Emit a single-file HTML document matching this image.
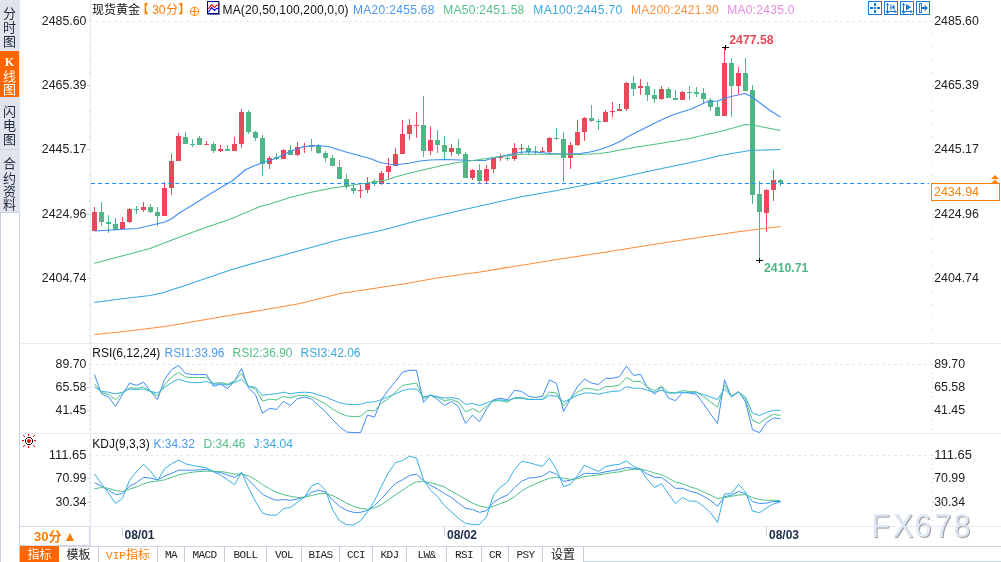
<!DOCTYPE html>
<html lang="zh"><head><meta charset="utf-8"><title>现货黄金 30分 K线图</title>
<style>
html,body{margin:0;padding:0;background:#fff}
body{width:1001px;height:562px;position:relative;overflow:hidden;font-family:"Liberation Sans","Noto Sans CJK SC",sans-serif;font-size:12px;color:#222}
#side{position:absolute;left:0;top:0;width:20px;height:562px;background:#fff;box-sizing:border-box;border-left:1px solid #c5cfde;border-right:1px solid #c9d3e1}
#side .tab{position:absolute;left:-1px;width:20px;background:#e1e4ed;box-sizing:border-box;border-right:1px solid #dde6f3}
#side .tab.on{background:#ff6600;color:#fff}
#side .tab i{position:absolute;left:0;width:19px;height:14px;line-height:14px;font-style:normal;font-size:13px;text-align:center;color:#1f2a3d}
#side .tab.on i{color:#fff}
svg{position:absolute;left:0;top:0}
svg text{font-family:"Liberation Sans","Noto Sans CJK SC",sans-serif}
#period{position:absolute;left:20px;top:526px;width:70px;height:20px;box-sizing:border-box;border:1px solid #d3dae6;border-left:none;background:#fff;color:#ff7a00;font-weight:bold;font-size:13px;line-height:19px;padding-left:14px}
#period b{position:absolute;left:45.500px;top:5.500px;width:0;height:0;border-left:4.300px solid transparent;border-right:4.300px solid transparent;border-bottom:8.500px solid #ff7a00}
#tabs{position:absolute;left:20px;top:546px;height:16px;width:981px;box-sizing:border-box;display:flex;background:#fff}
#tabs div{box-sizing:border-box;height:16px;border-top:1px solid #cdd5e0;border-right:1px solid #c5cdd9;text-align:center;font-family:"Liberation Mono","Noto Sans CJK SC",monospace;font-size:11px;letter-spacing:-0.600px;line-height:17px;color:#222;white-space:nowrap;overflow:hidden}
#tabs div.cn{font-family:"Liberation Sans","Noto Sans CJK SC",sans-serif;font-size:12px;letter-spacing:0;line-height:17px}
#tabs div.on{background:#ff6600;color:#fff;border-top:none;border-right:none;line-height:18px}
#tabs div.vip{color:#ff7a00}
#tabs div.last{border-bottom:1px solid #c5cdd9;border-right:none;flex:1}
</style></head><body>
<div id="side">
<div class="tab" style="top:0;height:51px;border-bottom:1px solid #e8edf5"><i style="top:6.900px">分</i><i style="top:20.600px">时</i><i style="top:34.700px">图</i></div>
<div class="tab on" style="top:51px;height:46px"><i style="top:4.100px;font-family:'Liberation Serif',serif;font-weight:bold;font-size:12px">K</i><i style="top:18.700px">线</i><i style="top:32px">图</i></div>
<div class="tab" style="top:97px;height:53px;border-bottom:1px solid #cfd6e3"><i style="top:7.700px">闪</i><i style="top:21.900px">电</i><i style="top:35.900px">图</i></div>
<div class="tab" style="top:150px;height:63px;border-bottom:1px solid #c8d2e0"><i style="top:7px">合</i><i style="top:21.600px">约</i><i style="top:35.400px">资</i><i style="top:47.800px">料</i></div>
</div>
<svg width="1001" height="562" viewBox="0 0 1001 562">
<rect x="20" y="343" width="981" height="1" fill="#e7ebf2"/>
<rect x="20" y="433" width="981" height="1" fill="#e7ebf2"/>
<rect x="20" y="526" width="981" height="1" fill="#e7ebf2"/>
<rect x="90" y="0" width="1" height="546" fill="#e4e9f1"/>
<line x1="90" x2="932" y1="21.5" y2="21.5" stroke="#e1e8f0" stroke-width="1" stroke-dasharray="3 3"/>
<line x1="90" x2="932" y1="364.5" y2="364.5" stroke="#e1e8f0" stroke-width="1" stroke-dasharray="3 3"/>
<line x1="90" x2="932" y1="455.5" y2="455.5" stroke="#e1e8f0" stroke-width="1" stroke-dasharray="3 3"/>
<rect x="89" y="20" width="1" height="1" fill="#c9d2df"/>
<rect x="932" y="20" width="1" height="1" fill="#c9d2df"/>
<rect x="89" y="33" width="1" height="1" fill="#c9d2df"/>
<rect x="932" y="33" width="1" height="1" fill="#c9d2df"/>
<rect x="89" y="46" width="1" height="1" fill="#c9d2df"/>
<rect x="932" y="46" width="1" height="1" fill="#c9d2df"/>
<rect x="89" y="59" width="1" height="1" fill="#c9d2df"/>
<rect x="932" y="59" width="1" height="1" fill="#c9d2df"/>
<rect x="89" y="72" width="1" height="1" fill="#c9d2df"/>
<rect x="932" y="72" width="1" height="1" fill="#c9d2df"/>
<rect x="89" y="85" width="1" height="1" fill="#c9d2df"/>
<rect x="932" y="85" width="1" height="1" fill="#c9d2df"/>
<rect x="89" y="98" width="1" height="1" fill="#c9d2df"/>
<rect x="932" y="98" width="1" height="1" fill="#c9d2df"/>
<rect x="89" y="111" width="1" height="1" fill="#c9d2df"/>
<rect x="932" y="111" width="1" height="1" fill="#c9d2df"/>
<rect x="89" y="123" width="1" height="1" fill="#c9d2df"/>
<rect x="932" y="123" width="1" height="1" fill="#c9d2df"/>
<rect x="89" y="136" width="1" height="1" fill="#c9d2df"/>
<rect x="932" y="136" width="1" height="1" fill="#c9d2df"/>
<rect x="89" y="149" width="1" height="1" fill="#c9d2df"/>
<rect x="932" y="149" width="1" height="1" fill="#c9d2df"/>
<rect x="89" y="162" width="1" height="1" fill="#c9d2df"/>
<rect x="932" y="162" width="1" height="1" fill="#c9d2df"/>
<rect x="89" y="175" width="1" height="1" fill="#c9d2df"/>
<rect x="932" y="175" width="1" height="1" fill="#c9d2df"/>
<rect x="89" y="188" width="1" height="1" fill="#c9d2df"/>
<rect x="932" y="188" width="1" height="1" fill="#c9d2df"/>
<rect x="89" y="201" width="1" height="1" fill="#c9d2df"/>
<rect x="932" y="201" width="1" height="1" fill="#c9d2df"/>
<rect x="89" y="214" width="1" height="1" fill="#c9d2df"/>
<rect x="932" y="214" width="1" height="1" fill="#c9d2df"/>
<rect x="89" y="226" width="1" height="1" fill="#c9d2df"/>
<rect x="932" y="226" width="1" height="1" fill="#c9d2df"/>
<rect x="89" y="239" width="1" height="1" fill="#c9d2df"/>
<rect x="932" y="239" width="1" height="1" fill="#c9d2df"/>
<rect x="89" y="252" width="1" height="1" fill="#c9d2df"/>
<rect x="932" y="252" width="1" height="1" fill="#c9d2df"/>
<rect x="89" y="265" width="1" height="1" fill="#c9d2df"/>
<rect x="932" y="265" width="1" height="1" fill="#c9d2df"/>
<rect x="89" y="278" width="1" height="1" fill="#c9d2df"/>
<rect x="932" y="278" width="1" height="1" fill="#c9d2df"/>
<rect x="89" y="291" width="1" height="1" fill="#c9d2df"/>
<rect x="932" y="291" width="1" height="1" fill="#c9d2df"/>
<rect x="89" y="304" width="1" height="1" fill="#c9d2df"/>
<rect x="932" y="304" width="1" height="1" fill="#c9d2df"/>
<rect x="89" y="317" width="1" height="1" fill="#c9d2df"/>
<rect x="932" y="317" width="1" height="1" fill="#c9d2df"/>
<rect x="89" y="329" width="1" height="1" fill="#c9d2df"/>
<rect x="932" y="329" width="1" height="1" fill="#c9d2df"/>
<rect x="89" y="342" width="1" height="1" fill="#c9d2df"/>
<rect x="932" y="342" width="1" height="1" fill="#c9d2df"/>
<rect x="89" y="364" width="1" height="1" fill="#c9d2df"/>
<rect x="932" y="364" width="1" height="1" fill="#c9d2df"/>
<rect x="89" y="368" width="1" height="1" fill="#c9d2df"/>
<rect x="932" y="368" width="1" height="1" fill="#c9d2df"/>
<rect x="89" y="373" width="1" height="1" fill="#c9d2df"/>
<rect x="932" y="373" width="1" height="1" fill="#c9d2df"/>
<rect x="89" y="378" width="1" height="1" fill="#c9d2df"/>
<rect x="932" y="378" width="1" height="1" fill="#c9d2df"/>
<rect x="89" y="382" width="1" height="1" fill="#c9d2df"/>
<rect x="932" y="382" width="1" height="1" fill="#c9d2df"/>
<rect x="89" y="387" width="1" height="1" fill="#c9d2df"/>
<rect x="932" y="387" width="1" height="1" fill="#c9d2df"/>
<rect x="89" y="392" width="1" height="1" fill="#c9d2df"/>
<rect x="932" y="392" width="1" height="1" fill="#c9d2df"/>
<rect x="89" y="396" width="1" height="1" fill="#c9d2df"/>
<rect x="932" y="396" width="1" height="1" fill="#c9d2df"/>
<rect x="89" y="401" width="1" height="1" fill="#c9d2df"/>
<rect x="932" y="401" width="1" height="1" fill="#c9d2df"/>
<rect x="89" y="405" width="1" height="1" fill="#c9d2df"/>
<rect x="932" y="405" width="1" height="1" fill="#c9d2df"/>
<rect x="89" y="410" width="1" height="1" fill="#c9d2df"/>
<rect x="932" y="410" width="1" height="1" fill="#c9d2df"/>
<rect x="89" y="415" width="1" height="1" fill="#c9d2df"/>
<rect x="932" y="415" width="1" height="1" fill="#c9d2df"/>
<rect x="89" y="419" width="1" height="1" fill="#c9d2df"/>
<rect x="932" y="419" width="1" height="1" fill="#c9d2df"/>
<rect x="89" y="424" width="1" height="1" fill="#c9d2df"/>
<rect x="932" y="424" width="1" height="1" fill="#c9d2df"/>
<rect x="89" y="429" width="1" height="1" fill="#c9d2df"/>
<rect x="932" y="429" width="1" height="1" fill="#c9d2df"/>
<rect x="89" y="454" width="1" height="1" fill="#c9d2df"/>
<rect x="932" y="454" width="1" height="1" fill="#c9d2df"/>
<rect x="89" y="459" width="1" height="1" fill="#c9d2df"/>
<rect x="932" y="459" width="1" height="1" fill="#c9d2df"/>
<rect x="89" y="464" width="1" height="1" fill="#c9d2df"/>
<rect x="932" y="464" width="1" height="1" fill="#c9d2df"/>
<rect x="89" y="468" width="1" height="1" fill="#c9d2df"/>
<rect x="932" y="468" width="1" height="1" fill="#c9d2df"/>
<rect x="89" y="473" width="1" height="1" fill="#c9d2df"/>
<rect x="932" y="473" width="1" height="1" fill="#c9d2df"/>
<rect x="89" y="478" width="1" height="1" fill="#c9d2df"/>
<rect x="932" y="478" width="1" height="1" fill="#c9d2df"/>
<rect x="89" y="482" width="1" height="1" fill="#c9d2df"/>
<rect x="932" y="482" width="1" height="1" fill="#c9d2df"/>
<rect x="89" y="487" width="1" height="1" fill="#c9d2df"/>
<rect x="932" y="487" width="1" height="1" fill="#c9d2df"/>
<rect x="89" y="492" width="1" height="1" fill="#c9d2df"/>
<rect x="932" y="492" width="1" height="1" fill="#c9d2df"/>
<rect x="89" y="496" width="1" height="1" fill="#c9d2df"/>
<rect x="932" y="496" width="1" height="1" fill="#c9d2df"/>
<rect x="89" y="501" width="1" height="1" fill="#c9d2df"/>
<rect x="932" y="501" width="1" height="1" fill="#c9d2df"/>
<rect x="89" y="506" width="1" height="1" fill="#c9d2df"/>
<rect x="932" y="506" width="1" height="1" fill="#c9d2df"/>
<rect x="89" y="510" width="1" height="1" fill="#c9d2df"/>
<rect x="932" y="510" width="1" height="1" fill="#c9d2df"/>
<rect x="89" y="515" width="1" height="1" fill="#c9d2df"/>
<rect x="932" y="515" width="1" height="1" fill="#c9d2df"/>
<rect x="89" y="520" width="1" height="1" fill="#c9d2df"/>
<rect x="932" y="520" width="1" height="1" fill="#c9d2df"/>
<rect x="87" y="85" width="3" height="1" fill="#cdd5e1"/>
<rect x="932" y="85" width="3" height="1" fill="#cdd5e1"/>
<rect x="87" y="149" width="3" height="1" fill="#cdd5e1"/>
<rect x="932" y="149" width="3" height="1" fill="#cdd5e1"/>
<rect x="87" y="214" width="3" height="1" fill="#cdd5e1"/>
<rect x="932" y="214" width="3" height="1" fill="#cdd5e1"/>
<rect x="87" y="278" width="3" height="1" fill="#cdd5e1"/>
<rect x="932" y="278" width="3" height="1" fill="#cdd5e1"/>
<rect x="87" y="387" width="3" height="1" fill="#cdd5e1"/>
<rect x="932" y="387" width="3" height="1" fill="#cdd5e1"/>
<rect x="87" y="410" width="3" height="1" fill="#cdd5e1"/>
<rect x="932" y="410" width="3" height="1" fill="#cdd5e1"/>
<rect x="87" y="478" width="3" height="1" fill="#cdd5e1"/>
<rect x="932" y="478" width="3" height="1" fill="#cdd5e1"/>
<rect x="87" y="502" width="3" height="1" fill="#cdd5e1"/>
<rect x="932" y="502" width="3" height="1" fill="#cdd5e1"/>
<rect x="94" y="207" width="1" height="24" fill="#e9485b"/>
<rect x="92" y="212" width="5" height="19" fill="#e9485b"/>
<rect x="101" y="202" width="1" height="24" fill="#4fb685"/>
<rect x="99" y="212" width="5" height="10" fill="#4fb685"/>
<rect x="108" y="215" width="1" height="18" fill="#4fb685"/>
<rect x="106" y="222" width="5" height="2" fill="#4fb685"/>
<rect x="115" y="218" width="1" height="12" fill="#4fb685"/>
<rect x="113" y="224" width="5" height="6" fill="#4fb685"/>
<rect x="122" y="217" width="1" height="12" fill="#e9485b"/>
<rect x="120" y="222" width="5" height="7" fill="#e9485b"/>
<rect x="129" y="208" width="1" height="15" fill="#e9485b"/>
<rect x="127" y="209" width="5" height="13" fill="#e9485b"/>
<rect x="136" y="206" width="1" height="8" fill="#4fb685"/>
<rect x="134" y="209" width="5" height="1" fill="#4fb685"/>
<rect x="143" y="202" width="1" height="10" fill="#e9485b"/>
<rect x="141" y="207" width="5" height="3" fill="#e9485b"/>
<rect x="150" y="204" width="1" height="9" fill="#4fb685"/>
<rect x="148" y="207" width="5" height="5" fill="#4fb685"/>
<rect x="157" y="207" width="1" height="19" fill="#4fb685"/>
<rect x="155" y="212" width="5" height="4" fill="#4fb685"/>
<rect x="164" y="182" width="1" height="34" fill="#e9485b"/>
<rect x="162" y="188" width="5" height="28" fill="#e9485b"/>
<rect x="171" y="154" width="1" height="41" fill="#e9485b"/>
<rect x="169" y="161" width="5" height="27" fill="#e9485b"/>
<rect x="178" y="133" width="1" height="28" fill="#e9485b"/>
<rect x="176" y="136" width="5" height="25" fill="#e9485b"/>
<rect x="185" y="132" width="1" height="12" fill="#4fb685"/>
<rect x="183" y="137" width="5" height="7" fill="#4fb685"/>
<rect x="192" y="139" width="1" height="8" fill="#4fb685"/>
<rect x="190" y="144" width="5" height="1" fill="#4fb685"/>
<rect x="199" y="136" width="1" height="9" fill="#4fb685"/>
<rect x="197" y="138" width="5" height="7" fill="#4fb685"/>
<rect x="206" y="141" width="1" height="4" fill="#e9485b"/>
<rect x="204" y="144" width="5" height="1" fill="#e9485b"/>
<rect x="213" y="142" width="1" height="11" fill="#4fb685"/>
<rect x="211" y="144" width="5" height="7" fill="#4fb685"/>
<rect x="220" y="145" width="1" height="7" fill="#e9485b"/>
<rect x="218" y="149" width="5" height="2" fill="#e9485b"/>
<rect x="227" y="145" width="1" height="6" fill="#4fb685"/>
<rect x="225" y="149" width="5" height="2" fill="#4fb685"/>
<rect x="234" y="137" width="1" height="14" fill="#e9485b"/>
<rect x="232" y="144" width="5" height="7" fill="#e9485b"/>
<rect x="241" y="109" width="1" height="39" fill="#e9485b"/>
<rect x="239" y="112" width="5" height="32" fill="#e9485b"/>
<rect x="248" y="110" width="1" height="24" fill="#4fb685"/>
<rect x="246" y="112" width="5" height="20" fill="#4fb685"/>
<rect x="255" y="131" width="1" height="10" fill="#4fb685"/>
<rect x="253" y="132" width="5" height="6" fill="#4fb685"/>
<rect x="262" y="135" width="1" height="41" fill="#4fb685"/>
<rect x="260" y="138" width="5" height="26" fill="#4fb685"/>
<rect x="269" y="156" width="1" height="13" fill="#e9485b"/>
<rect x="267" y="158" width="5" height="6" fill="#e9485b"/>
<rect x="276" y="153" width="1" height="7" fill="#4fb685"/>
<rect x="274" y="157" width="5" height="2" fill="#4fb685"/>
<rect x="283" y="149" width="1" height="10" fill="#e9485b"/>
<rect x="281" y="150" width="5" height="9" fill="#e9485b"/>
<rect x="290" y="145" width="1" height="10" fill="#4fb685"/>
<rect x="288" y="150" width="5" height="5" fill="#4fb685"/>
<rect x="297" y="142" width="1" height="14" fill="#e9485b"/>
<rect x="295" y="147" width="5" height="8" fill="#e9485b"/>
<rect x="304" y="143" width="1" height="10" fill="#e9485b"/>
<rect x="302" y="146" width="5" height="1" fill="#e9485b"/>
<rect x="311" y="139" width="1" height="12" fill="#4fb685"/>
<rect x="309" y="145" width="5" height="2" fill="#4fb685"/>
<rect x="318" y="144" width="1" height="10" fill="#4fb685"/>
<rect x="316" y="146" width="5" height="7" fill="#4fb685"/>
<rect x="325" y="151" width="1" height="11" fill="#4fb685"/>
<rect x="323" y="153" width="5" height="5" fill="#4fb685"/>
<rect x="332" y="155" width="1" height="11" fill="#4fb685"/>
<rect x="330" y="158" width="5" height="8" fill="#4fb685"/>
<rect x="339" y="160" width="1" height="19" fill="#4fb685"/>
<rect x="337" y="167" width="5" height="12" fill="#4fb685"/>
<rect x="346" y="174" width="1" height="15" fill="#4fb685"/>
<rect x="344" y="179" width="5" height="8" fill="#4fb685"/>
<rect x="353" y="184" width="1" height="10" fill="#4fb685"/>
<rect x="351" y="188" width="5" height="3" fill="#4fb685"/>
<rect x="360" y="185" width="1" height="13" fill="#e9485b"/>
<rect x="358" y="190" width="5" height="1" fill="#e9485b"/>
<rect x="367" y="177" width="1" height="16" fill="#e9485b"/>
<rect x="365" y="183" width="5" height="7" fill="#e9485b"/>
<rect x="374" y="179" width="1" height="7" fill="#4fb685"/>
<rect x="372" y="181" width="5" height="3" fill="#4fb685"/>
<rect x="381" y="171" width="1" height="14" fill="#e9485b"/>
<rect x="379" y="173" width="5" height="11" fill="#e9485b"/>
<rect x="388" y="158" width="1" height="21" fill="#e9485b"/>
<rect x="386" y="166" width="5" height="6" fill="#e9485b"/>
<rect x="395" y="148" width="1" height="18" fill="#e9485b"/>
<rect x="393" y="154" width="5" height="12" fill="#e9485b"/>
<rect x="402" y="120" width="1" height="34" fill="#e9485b"/>
<rect x="400" y="134" width="5" height="20" fill="#e9485b"/>
<rect x="409" y="119" width="1" height="21" fill="#e9485b"/>
<rect x="407" y="125" width="5" height="9" fill="#e9485b"/>
<rect x="416" y="112" width="1" height="26" fill="#e9485b"/>
<rect x="414" y="125" width="5" height="1" fill="#e9485b"/>
<rect x="423" y="96" width="1" height="61" fill="#4fb685"/>
<rect x="421" y="125" width="5" height="26" fill="#4fb685"/>
<rect x="430" y="126" width="1" height="29" fill="#e9485b"/>
<rect x="428" y="140" width="5" height="11" fill="#e9485b"/>
<rect x="437" y="130" width="1" height="23" fill="#4fb685"/>
<rect x="435" y="140" width="5" height="5" fill="#4fb685"/>
<rect x="444" y="136" width="1" height="23" fill="#4fb685"/>
<rect x="442" y="145" width="5" height="7" fill="#4fb685"/>
<rect x="451" y="144" width="1" height="12" fill="#e9485b"/>
<rect x="449" y="148" width="5" height="4" fill="#e9485b"/>
<rect x="458" y="139" width="1" height="17" fill="#4fb685"/>
<rect x="456" y="148" width="5" height="6" fill="#4fb685"/>
<rect x="465" y="152" width="1" height="26" fill="#4fb685"/>
<rect x="463" y="154" width="5" height="24" fill="#4fb685"/>
<rect x="472" y="169" width="1" height="11" fill="#e9485b"/>
<rect x="470" y="170" width="5" height="8" fill="#e9485b"/>
<rect x="479" y="164" width="1" height="19" fill="#4fb685"/>
<rect x="477" y="170" width="5" height="11" fill="#4fb685"/>
<rect x="486" y="165" width="1" height="18" fill="#e9485b"/>
<rect x="484" y="169" width="5" height="12" fill="#e9485b"/>
<rect x="493" y="157" width="1" height="16" fill="#e9485b"/>
<rect x="491" y="158" width="5" height="11" fill="#e9485b"/>
<rect x="500" y="154" width="1" height="7" fill="#e9485b"/>
<rect x="498" y="157" width="5" height="1" fill="#e9485b"/>
<rect x="507" y="156" width="1" height="5" fill="#4fb685"/>
<rect x="505" y="158" width="5" height="1" fill="#4fb685"/>
<rect x="514" y="143" width="1" height="18" fill="#e9485b"/>
<rect x="512" y="148" width="5" height="11" fill="#e9485b"/>
<rect x="521" y="144" width="1" height="10" fill="#e9485b"/>
<rect x="519" y="148" width="5" height="1" fill="#e9485b"/>
<rect x="528" y="145" width="1" height="10" fill="#4fb685"/>
<rect x="526" y="148" width="5" height="4" fill="#4fb685"/>
<rect x="535" y="146" width="1" height="8" fill="#4fb685"/>
<rect x="533" y="151" width="5" height="1" fill="#4fb685"/>
<rect x="542" y="147" width="1" height="5" fill="#e9485b"/>
<rect x="540" y="151" width="5" height="1" fill="#e9485b"/>
<rect x="549" y="137" width="1" height="16" fill="#e9485b"/>
<rect x="547" y="138" width="5" height="14" fill="#e9485b"/>
<rect x="556" y="128" width="1" height="12" fill="#4fb685"/>
<rect x="554" y="138" width="5" height="1" fill="#4fb685"/>
<rect x="563" y="132" width="1" height="50" fill="#4fb685"/>
<rect x="561" y="139" width="5" height="19" fill="#4fb685"/>
<rect x="570" y="142" width="1" height="27" fill="#e9485b"/>
<rect x="568" y="145" width="5" height="13" fill="#e9485b"/>
<rect x="577" y="120" width="1" height="26" fill="#e9485b"/>
<rect x="575" y="132" width="5" height="13" fill="#e9485b"/>
<rect x="584" y="117" width="1" height="24" fill="#e9485b"/>
<rect x="582" y="118" width="5" height="14" fill="#e9485b"/>
<rect x="591" y="105" width="1" height="17" fill="#4fb685"/>
<rect x="589" y="118" width="5" height="3" fill="#4fb685"/>
<rect x="598" y="119" width="1" height="11" fill="#4fb685"/>
<rect x="596" y="121" width="5" height="1" fill="#4fb685"/>
<rect x="605" y="110" width="1" height="12" fill="#e9485b"/>
<rect x="603" y="112" width="5" height="10" fill="#e9485b"/>
<rect x="612" y="102" width="1" height="15" fill="#e9485b"/>
<rect x="610" y="111" width="5" height="1" fill="#e9485b"/>
<rect x="619" y="104" width="1" height="7" fill="#e9485b"/>
<rect x="617" y="109" width="5" height="2" fill="#e9485b"/>
<rect x="626" y="82" width="1" height="29" fill="#e9485b"/>
<rect x="624" y="83" width="5" height="26" fill="#e9485b"/>
<rect x="633" y="76" width="1" height="20" fill="#4fb685"/>
<rect x="631" y="83" width="5" height="6" fill="#4fb685"/>
<rect x="640" y="79" width="1" height="16" fill="#e9485b"/>
<rect x="638" y="86" width="5" height="2" fill="#e9485b"/>
<rect x="647" y="82" width="1" height="19" fill="#4fb685"/>
<rect x="645" y="86" width="5" height="9" fill="#4fb685"/>
<rect x="654" y="89" width="1" height="14" fill="#4fb685"/>
<rect x="652" y="95" width="5" height="4" fill="#4fb685"/>
<rect x="661" y="86" width="1" height="14" fill="#e9485b"/>
<rect x="659" y="89" width="5" height="10" fill="#e9485b"/>
<rect x="668" y="87" width="1" height="11" fill="#4fb685"/>
<rect x="666" y="89" width="5" height="9" fill="#4fb685"/>
<rect x="675" y="90" width="1" height="10" fill="#4fb685"/>
<rect x="673" y="98" width="5" height="2" fill="#4fb685"/>
<rect x="682" y="91" width="1" height="9" fill="#e9485b"/>
<rect x="680" y="92" width="5" height="8" fill="#e9485b"/>
<rect x="689" y="86" width="1" height="14" fill="#4fb685"/>
<rect x="687" y="92" width="5" height="1" fill="#4fb685"/>
<rect x="696" y="87" width="1" height="10" fill="#4fb685"/>
<rect x="694" y="92" width="5" height="2" fill="#4fb685"/>
<rect x="703" y="88" width="1" height="16" fill="#4fb685"/>
<rect x="701" y="93" width="5" height="6" fill="#4fb685"/>
<rect x="710" y="98" width="1" height="13" fill="#4fb685"/>
<rect x="708" y="100" width="5" height="7" fill="#4fb685"/>
<rect x="717" y="101" width="1" height="15" fill="#4fb685"/>
<rect x="715" y="107" width="5" height="9" fill="#4fb685"/>
<rect x="724" y="47" width="1" height="69" fill="#e9485b"/>
<rect x="722" y="63" width="5" height="53" fill="#e9485b"/>
<rect x="731" y="58" width="1" height="59" fill="#4fb685"/>
<rect x="729" y="63" width="5" height="23" fill="#4fb685"/>
<rect x="738" y="67" width="1" height="27" fill="#e9485b"/>
<rect x="736" y="73" width="5" height="13" fill="#e9485b"/>
<rect x="745" y="58" width="1" height="33" fill="#4fb685"/>
<rect x="743" y="73" width="5" height="18" fill="#4fb685"/>
<rect x="752" y="85" width="1" height="119" fill="#4fb685"/>
<rect x="750" y="90" width="5" height="105" fill="#4fb685"/>
<rect x="759" y="181" width="1" height="79" fill="#4fb685"/>
<rect x="757" y="194" width="5" height="18" fill="#4fb685"/>
<rect x="766" y="189" width="1" height="43" fill="#e9485b"/>
<rect x="764" y="190" width="5" height="23" fill="#e9485b"/>
<rect x="773" y="170" width="1" height="31" fill="#e9485b"/>
<rect x="771" y="180" width="5" height="10" fill="#e9485b"/>
<rect x="780" y="179" width="1" height="7" fill="#4fb685"/>
<rect x="778" y="180" width="5" height="3" fill="#4fb685"/>
<polyline fill="none" stroke="#3d8df5" stroke-width="1.05" stroke-linejoin="round" points="94.5,231.0 120.0,229.5 137.0,228.5 150.0,225.5 165.0,222.0 172.0,218.5 180.0,212.5 195.0,203.5 210.0,194.0 220.0,188.0 232.0,181.0 238.0,176.0 245.0,170.0 253.0,166.3 262.0,163.0 270.0,160.3 276.0,158.2 283.0,155.0 290.0,151.5 304.0,146.5 318.0,145.5 328.0,146.5 346.0,152.0 370.0,158.5 380.0,162.5 395.0,165.0 410.0,163.0 420.0,161.0 430.0,160.0 445.0,159.6 460.0,160.0 470.0,160.6 485.0,160.4 493.0,158.0 500.0,156.5 507.0,155.0 514.0,153.5 521.0,152.3 528.0,151.7 540.0,152.5 552.0,153.5 565.0,154.0 580.0,153.5 590.0,152.0 600.0,149.5 610.0,146.0 620.0,141.5 630.0,135.5 640.0,130.5 650.0,125.5 660.0,120.5 670.0,116.0 680.0,112.5 690.0,109.5 700.0,105.0 706.0,102.0 712.0,101.5 718.0,101.0 724.0,98.5 731.0,96.5 738.0,95.0 745.0,93.5 752.0,97.0 760.0,103.0 770.0,110.5 780.5,117.0"/>
<polyline fill="none" stroke="#4fc183" stroke-width="1.05" stroke-linejoin="round" points="94.5,263.3 120.0,256.5 150.0,248.5 172.0,240.0 200.0,229.5 232.0,218.5 260.0,206.5 270.0,204.0 290.0,197.5 310.0,192.5 330.0,188.5 346.0,186.0 360.0,184.0 375.0,182.0 388.0,179.5 395.0,177.0 410.0,173.0 425.0,169.5 440.0,166.0 455.0,163.0 465.0,161.5 480.0,159.5 493.0,157.5 507.0,156.0 521.0,154.2 540.0,154.2 580.0,154.5 600.0,153.5 610.0,152.0 620.0,150.0 640.0,146.5 660.0,143.5 690.0,138.5 700.0,136.0 720.0,131.5 735.0,127.5 745.0,124.5 752.0,125.0 765.0,127.5 780.5,130.5"/>
<polyline fill="none" stroke="#35a8e0" stroke-width="1.05" stroke-linejoin="round" points="94.5,302.5 120.0,299.0 150.0,295.5 162.0,293.0 185.0,285.5 232.0,269.5 260.0,261.5 300.0,250.5 340.0,239.5 383.0,230.0 420.0,220.0 460.0,210.5 500.0,201.5 520.0,197.0 560.0,190.0 600.0,182.0 650.0,171.0 700.0,160.5 720.0,155.5 750.0,150.5 780.5,149.5"/>
<polyline fill="none" stroke="#ff8c3a" stroke-width="1.05" stroke-linejoin="round" points="94.5,334.5 120.0,332.0 165.0,326.5 200.0,320.5 232.0,315.0 260.0,310.5 300.0,303.5 340.0,293.5 400.0,284.5 440.0,277.5 480.0,272.0 520.0,265.5 560.0,259.0 600.0,253.0 650.0,245.0 700.0,237.3 740.0,231.5 760.0,229.0 780.5,226.5"/>
<line x1="91" x2="929" y1="183.5" y2="183.5" stroke="#1e8bff" stroke-width="1.15" stroke-dasharray="4 3.03"/>
<polyline fill="none" stroke="#3d8df5" stroke-width="1.0" stroke-linejoin="round" points="94.5,374.6 101.5,393.8 108.5,397.0 115.5,406.3 122.5,394.6 129.5,383.1 136.5,385.4 143.5,382.2 150.5,391.4 157.5,399.5 164.5,379.4 171.5,369.8 178.5,365.3 185.5,373.5 192.5,374.6 199.5,374.6 206.5,374.6 213.5,386.3 220.5,384.2 227.5,388.6 234.5,381.0 241.5,368.5 248.5,388.2 255.5,394.6 262.5,413.1 269.5,408.3 276.5,409.4 283.5,401.4 290.5,405.4 297.5,398.7 304.5,397.0 311.5,399.0 318.5,405.5 325.5,411.5 332.5,419.5 339.5,426.7 346.5,432.0 353.5,432.6 360.5,432.6 367.5,415.1 374.5,417.1 381.5,399.5 388.5,389.8 395.5,381.5 402.5,372.2 409.5,370.3 416.5,370.3 423.5,402.3 430.5,394.6 437.5,399.5 444.5,405.5 451.5,401.5 458.5,406.7 465.5,423.5 472.5,415.1 479.5,421.6 486.5,409.1 493.5,399.8 500.5,398.2 507.5,399.8 514.5,390.3 521.5,391.4 528.5,396.2 535.5,397.5 542.5,396.2 549.5,379.9 556.5,383.4 563.5,411.5 570.5,398.7 577.5,386.6 584.5,379.1 591.5,383.0 598.5,384.6 605.5,378.3 612.5,378.3 619.5,376.7 626.5,366.1 633.5,375.4 640.5,374.3 647.5,387.9 654.5,394.3 661.5,386.6 668.5,398.2 675.5,400.7 682.5,392.6 689.5,393.0 696.5,394.3 703.5,403.9 710.5,413.9 717.5,423.5 724.5,379.9 731.5,397.0 738.5,391.4 745.5,401.9 752.5,429.9 759.5,432.6 766.5,422.7 773.5,417.9 780.5,418.7"/>
<polyline fill="none" stroke="#4fc183" stroke-width="1.0" stroke-linejoin="round" points="94.5,383.9 101.5,392.2 108.5,394.6 115.5,399.5 122.5,393.0 129.5,387.9 136.5,388.2 143.5,387.1 150.5,391.4 157.5,395.9 164.5,385.0 171.5,377.0 178.5,372.5 185.5,377.0 192.5,377.5 199.5,377.5 206.5,377.5 213.5,383.4 220.5,382.6 227.5,384.2 234.5,381.0 241.5,373.5 248.5,386.3 255.5,389.0 262.5,401.1 269.5,399.1 276.5,399.9 283.5,396.2 290.5,398.2 297.5,395.4 304.5,395.4 311.5,396.7 318.5,400.3 325.5,403.9 332.5,409.1 339.5,413.1 346.5,415.9 353.5,416.6 360.5,416.3 367.5,410.3 374.5,411.1 381.5,403.0 388.5,398.7 395.5,392.2 402.5,385.4 409.5,384.2 416.5,383.1 423.5,398.7 430.5,395.4 437.5,397.5 444.5,400.6 451.5,399.5 458.5,402.2 465.5,411.9 472.5,408.6 479.5,412.3 486.5,406.3 493.5,401.1 500.5,400.7 507.5,402.3 514.5,397.5 521.5,397.5 528.5,399.1 535.5,399.5 542.5,399.1 549.5,392.2 556.5,393.0 563.5,405.9 570.5,398.3 577.5,392.2 584.5,388.2 591.5,389.0 598.5,390.3 605.5,386.6 612.5,386.3 619.5,385.0 626.5,377.5 633.5,381.4 640.5,381.4 647.5,387.4 654.5,390.6 661.5,386.3 668.5,392.2 675.5,393.0 682.5,390.6 689.5,391.4 696.5,391.8 703.5,396.6 710.5,401.9 717.5,407.1 724.5,385.0 731.5,396.2 738.5,391.9 745.5,399.5 752.5,420.3 759.5,423.5 766.5,417.9 773.5,414.3 780.5,415.5"/>
<polyline fill="none" stroke="#35b0e6" stroke-width="1.0" stroke-linejoin="round" points="94.5,387.0 101.5,391.4 108.5,392.2 115.5,393.8 122.5,392.2 129.5,389.0 136.5,389.5 143.5,389.0 150.5,391.4 157.5,393.0 164.5,387.4 171.5,382.6 178.5,379.1 185.5,381.5 192.5,382.6 199.5,382.6 206.5,381.5 213.5,384.2 220.5,383.9 227.5,385.0 234.5,382.6 241.5,379.4 248.5,386.3 255.5,387.4 262.5,395.4 269.5,394.3 276.5,393.8 283.5,392.2 290.5,393.8 297.5,392.6 304.5,392.2 311.5,392.7 318.5,395.0 325.5,397.0 332.5,399.9 339.5,402.7 346.5,404.3 353.5,404.6 360.5,404.3 367.5,402.2 374.5,401.9 381.5,399.5 388.5,396.6 395.5,393.8 402.5,390.6 409.5,389.0 416.5,389.0 423.5,397.0 430.5,395.4 437.5,396.6 444.5,398.2 451.5,397.5 458.5,398.7 465.5,404.3 472.5,403.5 479.5,405.5 486.5,403.0 493.5,400.3 500.5,399.9 507.5,400.6 514.5,398.3 521.5,398.3 528.5,399.5 535.5,399.5 542.5,399.5 549.5,395.4 556.5,396.2 563.5,401.9 570.5,398.7 577.5,395.4 584.5,393.0 591.5,393.0 598.5,394.3 605.5,392.6 612.5,391.4 619.5,391.1 626.5,386.6 633.5,388.2 640.5,388.2 647.5,390.3 654.5,392.2 661.5,390.3 668.5,393.0 675.5,393.0 682.5,392.2 689.5,392.7 696.5,392.7 703.5,394.6 710.5,397.0 717.5,399.5 724.5,389.0 731.5,396.2 738.5,392.2 745.5,397.0 752.5,413.1 759.5,415.5 766.5,412.3 773.5,410.3 780.5,410.3"/>
<polyline fill="none" stroke="#3d8df5" stroke-width="1.0" stroke-linejoin="round" points="94.5,482.7 101.5,486.2 108.5,489.9 115.5,494.6 122.5,493.5 129.5,486.2 136.5,482.7 143.5,477.4 150.5,478.2 157.5,479.8 164.5,476.3 171.5,473.4 178.5,470.2 185.5,470.2 192.5,470.2 199.5,469.9 206.5,469.4 213.5,471.5 220.5,472.6 227.5,475.0 234.5,477.4 241.5,473.1 248.5,479.8 255.5,487.0 262.5,494.3 269.5,497.8 276.5,500.3 283.5,499.5 290.5,500.3 297.5,499.1 304.5,497.1 311.5,492.3 318.5,490.3 325.5,491.9 332.5,499.9 339.5,506.3 346.5,510.3 353.5,512.4 360.5,512.4 367.5,510.3 374.5,505.5 381.5,498.7 388.5,490.7 395.5,483.4 402.5,479.8 409.5,475.5 416.5,474.2 423.5,480.6 430.5,485.4 437.5,489.1 444.5,493.5 451.5,497.5 458.5,503.1 465.5,508.4 472.5,509.5 479.5,512.4 486.5,510.6 493.5,502.3 500.5,497.9 507.5,495.1 514.5,487.5 521.5,481.4 528.5,478.2 535.5,477.4 542.5,476.0 549.5,471.5 556.5,474.2 563.5,481.4 570.5,480.3 577.5,477.4 584.5,473.4 591.5,473.4 598.5,473.4 605.5,471.8 612.5,470.6 619.5,469.4 626.5,467.5 633.5,468.3 640.5,469.4 647.5,474.2 654.5,477.4 661.5,477.4 668.5,482.7 675.5,488.3 682.5,488.3 689.5,491.1 696.5,492.8 703.5,496.3 710.5,500.3 717.5,506.3 724.5,496.7 731.5,495.1 738.5,491.4 745.5,493.5 752.5,501.5 759.5,503.5 766.5,503.1 773.5,501.5 780.5,501.5"/>
<polyline fill="none" stroke="#4fc183" stroke-width="1.0" stroke-linejoin="round" points="94.5,488.7 101.5,487.5 108.5,488.3 115.5,490.6 122.5,491.5 129.5,489.1 136.5,487.0 143.5,483.8 150.5,481.9 157.5,481.1 164.5,479.8 171.5,477.4 178.5,475.0 185.5,473.4 192.5,472.2 199.5,471.5 206.5,471.2 213.5,471.2 220.5,471.5 227.5,472.6 234.5,474.2 241.5,473.8 248.5,475.8 255.5,479.8 262.5,484.6 269.5,488.7 276.5,492.3 283.5,494.7 290.5,496.3 297.5,497.5 304.5,497.1 311.5,495.5 318.5,493.8 325.5,493.5 332.5,495.5 339.5,499.1 346.5,503.1 353.5,506.3 360.5,508.4 367.5,509.2 374.5,507.9 381.5,504.7 388.5,499.9 395.5,494.7 402.5,490.3 409.5,485.4 416.5,481.9 423.5,481.4 430.5,482.7 437.5,484.6 444.5,487.0 451.5,491.1 458.5,495.1 465.5,499.1 472.5,503.1 479.5,505.9 486.5,507.5 493.5,506.3 500.5,503.5 507.5,501.1 514.5,496.7 521.5,491.1 528.5,487.0 535.5,483.8 542.5,480.8 549.5,478.2 556.5,477.4 563.5,478.2 570.5,479.4 577.5,478.6 584.5,476.6 591.5,475.8 598.5,475.0 605.5,473.8 612.5,472.6 619.5,471.8 626.5,470.2 633.5,469.4 640.5,469.1 647.5,470.6 654.5,473.0 661.5,474.6 668.5,478.2 675.5,481.9 682.5,483.8 689.5,486.6 696.5,488.7 703.5,491.9 710.5,495.1 717.5,498.6 724.5,497.5 731.5,496.3 738.5,495.1 745.5,494.6 752.5,497.5 759.5,499.5 766.5,500.3 773.5,500.3 780.5,500.7"/>
<polyline fill="none" stroke="#35b0e6" stroke-width="1.0" stroke-linejoin="round" points="94.5,473.9 101.5,483.8 108.5,493.0 115.5,503.5 122.5,498.3 129.5,480.3 136.5,471.8 143.5,464.3 150.5,471.0 157.5,480.6 164.5,469.0 171.5,463.8 178.5,460.1 185.5,463.8 192.5,465.4 199.5,466.7 206.5,467.8 213.5,471.8 220.5,475.0 227.5,479.8 234.5,484.6 241.5,472.2 248.5,487.9 255.5,501.5 262.5,513.2 269.5,515.1 276.5,515.1 283.5,508.7 290.5,507.4 297.5,502.3 304.5,497.1 311.5,485.9 318.5,483.0 325.5,490.3 332.5,509.5 339.5,520.7 346.5,524.7 353.5,525.0 360.5,520.7 367.5,511.9 374.5,500.7 381.5,486.2 388.5,472.6 395.5,462.5 402.5,460.6 409.5,456.1 416.5,458.2 423.5,479.8 430.5,490.3 437.5,496.7 444.5,505.5 451.5,511.9 458.5,518.3 465.5,523.4 472.5,524.4 479.5,524.4 486.5,516.7 493.5,495.1 500.5,487.0 507.5,482.2 514.5,469.4 521.5,461.4 528.5,462.5 535.5,464.6 542.5,466.4 549.5,458.2 556.5,469.4 563.5,486.6 570.5,484.3 577.5,475.8 584.5,465.1 591.5,468.6 598.5,471.4 605.5,466.6 612.5,465.1 619.5,464.3 626.5,460.9 633.5,466.2 640.5,469.4 647.5,479.8 654.5,487.5 661.5,483.8 668.5,493.9 675.5,503.5 682.5,497.5 689.5,501.1 696.5,501.3 703.5,506.3 710.5,512.7 717.5,522.6 724.5,493.9 731.5,493.5 738.5,484.3 745.5,491.9 752.5,511.1 759.5,512.7 766.5,507.9 773.5,503.9 780.5,501.9"/>
<path d="M722 47.5h7M725.5 45v5" stroke="#000" stroke-width="1"/>
<path d="M756 260.5h7M759.5 258v5" stroke="#000" stroke-width="1"/>
<rect x="122" y="527" width="1" height="9" fill="#c9d2df"/>
<rect x="444" y="527" width="1" height="9" fill="#c9d2df"/>
<rect x="766" y="527" width="1" height="9" fill="#c9d2df"/>
<text x="41.81756999999999" y="24.8" fill="#222" font-size="12" text-anchor="start" font-weight="normal" textLength="44.7" lengthAdjust="spacingAndGlyphs">2485.60</text>
<text x="934.2" y="24.8" fill="#222" font-size="12" text-anchor="start" font-weight="normal" textLength="44.7" lengthAdjust="spacingAndGlyphs">2485.60</text>
<text x="41.81756999999999" y="89.1" fill="#222" font-size="12" text-anchor="start" font-weight="normal" textLength="44.7" lengthAdjust="spacingAndGlyphs">2465.39</text>
<text x="934.2" y="89.1" fill="#222" font-size="12" text-anchor="start" font-weight="normal" textLength="44.7" lengthAdjust="spacingAndGlyphs">2465.39</text>
<text x="41.81756999999999" y="153.3" fill="#222" font-size="12" text-anchor="start" font-weight="normal" textLength="44.7" lengthAdjust="spacingAndGlyphs">2445.17</text>
<text x="934.2" y="153.3" fill="#222" font-size="12" text-anchor="start" font-weight="normal" textLength="44.7" lengthAdjust="spacingAndGlyphs">2445.17</text>
<text x="41.81756999999999" y="217.70000000000002" fill="#222" font-size="12" text-anchor="start" font-weight="normal" textLength="44.7" lengthAdjust="spacingAndGlyphs">2424.96</text>
<text x="934.2" y="217.70000000000002" fill="#222" font-size="12" text-anchor="start" font-weight="normal" textLength="44.7" lengthAdjust="spacingAndGlyphs">2424.96</text>
<text x="41.81756999999999" y="282.1" fill="#222" font-size="12" text-anchor="start" font-weight="normal" textLength="44.7" lengthAdjust="spacingAndGlyphs">2404.74</text>
<text x="934.2" y="282.1" fill="#222" font-size="12" text-anchor="start" font-weight="normal" textLength="44.7" lengthAdjust="spacingAndGlyphs">2404.74</text>
<text x="55.56601" y="368.3" fill="#222" font-size="12" text-anchor="start" font-weight="normal" textLength="30.9" lengthAdjust="spacingAndGlyphs">89.70</text>
<text x="934.2" y="368.3" fill="#222" font-size="12" text-anchor="start" font-weight="normal" textLength="30.9" lengthAdjust="spacingAndGlyphs">89.70</text>
<text x="55.56601" y="391.3" fill="#222" font-size="12" text-anchor="start" font-weight="normal" textLength="30.9" lengthAdjust="spacingAndGlyphs">65.58</text>
<text x="934.2" y="391.3" fill="#222" font-size="12" text-anchor="start" font-weight="normal" textLength="30.9" lengthAdjust="spacingAndGlyphs">65.58</text>
<text x="55.56601" y="414.3" fill="#222" font-size="12" text-anchor="start" font-weight="normal" textLength="30.9" lengthAdjust="spacingAndGlyphs">41.45</text>
<text x="934.2" y="414.3" fill="#222" font-size="12" text-anchor="start" font-weight="normal" textLength="30.9" lengthAdjust="spacingAndGlyphs">41.45</text>
<text x="48.69178999999999" y="459.3" fill="#222" font-size="12" text-anchor="start" font-weight="normal" textLength="37.8" lengthAdjust="spacingAndGlyphs">111.65</text>
<text x="934.2" y="459.3" fill="#222" font-size="12" text-anchor="start" font-weight="normal" textLength="37.8" lengthAdjust="spacingAndGlyphs">111.65</text>
<text x="55.56601" y="482.3" fill="#222" font-size="12" text-anchor="start" font-weight="normal" textLength="30.9" lengthAdjust="spacingAndGlyphs">70.99</text>
<text x="934.2" y="482.3" fill="#222" font-size="12" text-anchor="start" font-weight="normal" textLength="30.9" lengthAdjust="spacingAndGlyphs">70.99</text>
<text x="55.56601" y="506.3" fill="#222" font-size="12" text-anchor="start" font-weight="normal" textLength="30.9" lengthAdjust="spacingAndGlyphs">30.34</text>
<text x="934.2" y="506.3" fill="#222" font-size="12" text-anchor="start" font-weight="normal" textLength="30.9" lengthAdjust="spacingAndGlyphs">30.34</text>
<text x="92" y="14" fill="#111" font-size="12" text-anchor="start" font-weight="normal" >现货黄金</text>
<text x="136.8" y="14" fill="#ff7a00" font-size="12" text-anchor="start" font-weight="bold" >【</text>
<text x="152.2" y="14" fill="#ff7a00" font-size="12" text-anchor="start" font-weight="normal" >30</text>
<text x="166" y="14" fill="#ff7a00" font-size="12" text-anchor="start" font-weight="normal" >分</text>
<text x="178.3" y="14" fill="#ff7a00" font-size="12" text-anchor="start" font-weight="bold" >】</text>
<text x="222.5" y="14" fill="#111" font-size="12" text-anchor="start" font-weight="normal" textLength="126">MA(20,50,100,200,0,0)</text>
<text x="353" y="14" fill="#4a98f0" font-size="12" text-anchor="start" font-weight="normal" textLength="81.5">MA20:2455.68</text>
<text x="443.3" y="14" fill="#55c088" font-size="12" text-anchor="start" font-weight="normal" textLength="81">MA50:2451.58</text>
<text x="533.3" y="14" fill="#3aa8e0" font-size="12" text-anchor="start" font-weight="normal" textLength="88.8">MA100:2445.70</text>
<text x="631" y="14" fill="#ff9040" font-size="12" text-anchor="start" font-weight="normal" textLength="87.8">MA200:2421.30</text>
<text x="727.2" y="14" fill="#e58ae0" font-size="12" text-anchor="start" font-weight="normal" textLength="67.3">MA0:2435.0</text>
<text x="92.3" y="357" fill="#111" font-size="12" text-anchor="start" font-weight="normal" >RSI(6,12,24)</text>
<text x="164.5" y="357" fill="#4a98f0" font-size="12" text-anchor="start" font-weight="normal" >RSI1:33.96</text>
<text x="232.5" y="357" fill="#55c088" font-size="12" text-anchor="start" font-weight="normal" >RSI2:36.90</text>
<text x="300.5" y="357" fill="#3aa8e0" font-size="12" text-anchor="start" font-weight="normal" >RSI3:42.06</text>
<text x="92.3" y="448" fill="#111" font-size="12" text-anchor="start" font-weight="normal" >KDJ(9,3,3)</text>
<text x="153.5" y="448" fill="#4a98f0" font-size="12" text-anchor="start" font-weight="normal" >K:34.32</text>
<text x="203.5" y="448" fill="#55c088" font-size="12" text-anchor="start" font-weight="normal" >D:34.46</text>
<text x="253.5" y="448" fill="#3aa8e0" font-size="12" text-anchor="start" font-weight="normal" >J:34.04</text>
<text x="729.3" y="44.2" fill="#e9485b" font-size="12" text-anchor="start" font-weight="bold" textLength="44.3" lengthAdjust="spacingAndGlyphs">2477.58</text>
<text x="764" y="272" fill="#4fb685" font-size="12" text-anchor="start" font-weight="bold" textLength="44.3" lengthAdjust="spacingAndGlyphs">2410.71</text>
<text x="124.5" y="539" fill="#1c2b4a" font-size="12" text-anchor="start" font-weight="bold" >08/01</text>
<text x="447" y="539" fill="#1c2b4a" font-size="12" text-anchor="start" font-weight="bold" >08/02</text>
<text x="769" y="539" fill="#1c2b4a" font-size="12" text-anchor="start" font-weight="bold" >08/03</text>
<rect x="931.5" y="183.5" width="68" height="17" fill="#fff" stroke="#ff8000" stroke-width="1"/>
<path d="M991 179l4-4 4 4zM991 183.5l4-4 4 4z" fill="#ff8000"/>
<text x="934" y="196" fill="#ff8000" font-size="12" text-anchor="start" font-weight="normal" textLength="45" lengthAdjust="spacingAndGlyphs">2434.94</text>
<text x="871.3 892.9 914.5 934.6 953.6" y="0" transform="translate(0,537.2) scale(1,1.075)" font-size="30.4" fill="#dfe8f7" style="filter:drop-shadow(1px 1px .5px #a39c9f)">FX678</text>

<g fill="none" stroke="#ff8000" stroke-width=".9"><circle cx="194.6" cy="11.4" r="4.2"/><path d="M190 11.5h9M194.5 7v9"/></g>
<g><rect x="208.300" y="2.300" width="11.700" height="12.600" fill="#9a9a9a"/><rect x="207.500" y="1.500" width="11.200" height="12.200" fill="#fff" stroke="#00008b" stroke-width="1"/><rect x="207" y="13" width="12.200" height="1.200" fill="#00008b"/>
<polyline points="208.300,8.800 211.500,4.700 214.500,7.500 216.500,5.200 218.500,5.200" fill="none" stroke="#f00" stroke-width="1.1"/>
<polyline points="208.300,12.200 211.500,7.700 214.500,10.500 216.500,8.500 218.500,8.500" fill="none" stroke="#00f" stroke-width="1.1"/></g>
<g stroke="#1e78d2" fill="#fff">
<rect x="868.5" y="1.500" width="13" height="13"/><rect x="884.500" y="1.500" width="13" height="13"/><rect x="900.500" y="1.500" width="13" height="13"/><rect x="916.500" y="1.500" width="13" height="13"/></g>
<g fill="#1e78d2">
<rect x="870" y="7" width="3" height="2"/><rect x="877" y="7" width="3" height="2"/><rect x="874" y="3" width="2" height="3"/><rect x="874" y="10" width="2" height="3"/><rect x="874" y="7" width="2" height="2"/>
<rect x="887" y="4" width="1" height="9"/><rect x="886" y="11" width="10" height="1"/><path d="M885.800 5.200l1.700-2.400 1.700 2.400zM885.800 11.800l1.700 2.200 1.700-2.200zM894.500 9.800l2.300 1.700-2.300 1.700zM887.800 9.800l-2.300 1.700 2.300 1.700z"/>
<rect x="890.300" y="4.500" width="1.100" height="5.500"/><path d="M894.500 4.500v5.500l-3-2.750z"/>
<rect x="903" y="4" width="1" height="9"/><rect x="902" y="11" width="10" height="1"/><path d="M901.800 5.200l1.700-2.400 1.700 2.400zM901.800 11.800l1.700 2.200 1.700-2.200zM910.500 9.800l2.300 1.700-2.300 1.700zM903.800 9.800l-2.300 1.700 2.300 1.700z"/>
<path d="M906 4v6.400l5.200-3.200z"/>
<rect x="919.500" y="3.500" width="2" height="9" fill="none" stroke="#1e78d2" stroke-width="1"/><rect x="921" y="7" width="4" height="2"/><path d="M924.500 4.800l3.500 3.200-3.500 3.200z"/>
</g>
<g><path d="M27.500 437.500h3l2 2v3l-2 2h-3l-2-2v-3z" fill="#fff" stroke="#000" stroke-width="1"/><circle cx="29" cy="441" r="2" fill="#f00"/>
<g fill="#f00"><rect x="28" y="434" width="1.200" height="2"/><rect x="28" y="446" width="1.200" height="2"/><rect x="22" y="440" width="2" height="1.200"/><rect x="34" y="440" width="2" height="1.200"/>
<rect x="23" y="435" width="1" height="1"/><rect x="24" y="436" width="1" height="1"/><rect x="34" y="435" width="1" height="1"/><rect x="33" y="436" width="1" height="1"/>
<rect x="23" y="446" width="1" height="1"/><rect x="24" y="445" width="1" height="1"/><rect x="34" y="446" width="1" height="1"/><rect x="33" y="445" width="1" height="1"/></g></g>

</svg>
<div id="period">30分<b></b></div>
<div id="tabs">
<div class="cn on" style="width:39px">指标</div><div class="cn" style="width:40px">模板</div><div class="cn vip" style="width:59px"><span style="font-family:'Liberation Mono',monospace;font-size:11px;letter-spacing:0">VIP</span>指标</div><div style="width:27px">MA</div><div style="width:40px">MACD</div><div style="width:42px">BOLL</div><div style="width:35px">VOL</div><div style="width:38px">BIAS</div><div style="width:33px">CCI</div><div style="width:34px">KDJ</div><div style="width:40px">LW&amp;</div><div style="width:35px">RSI</div><div style="width:27px">CR</div><div style="width:34px">PSY</div><div class="cn" style="width:41px">设置</div><div class="last"></div>
</div>
</body></html>
